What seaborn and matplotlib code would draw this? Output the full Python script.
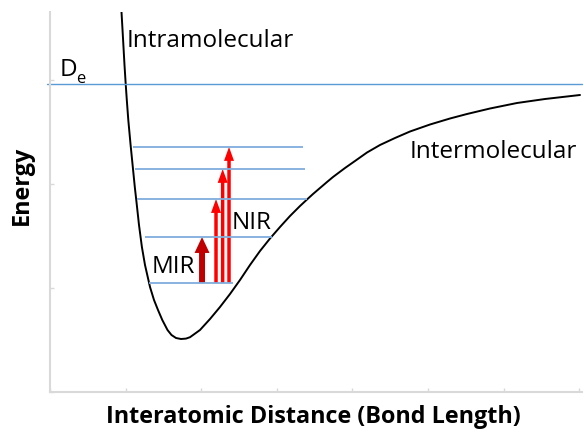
import numpy as np
import pandas as pd
import matplotlib
matplotlib.use("Agg")
import matplotlib.pyplot as plt
import seaborn as sns
from matplotlib.patches import FancyArrowPatch

# ---- data ----
curve_x = [0.9458, 0.9669, 0.9854, 1.0013, 1.0159, 1.0357, 1.0661, 1.0992, 1.1217, 1.1455,
           1.1772, 1.2156, 1.2566, 1.3228, 1.3757, 1.4286, 1.4854, 1.5542, 1.6071, 1.6667,
           1.7328, 1.7989, 1.8519, 1.9841, 2.1164, 2.2487, 2.3810, 2.5132, 2.6455, 2.7778,
           2.9101, 3.0423, 3.1746, 3.3069, 3.3995, 3.4788, 3.5714, 3.6640, 3.7434, 3.9021,
           4.0344, 4.1931, 4.3651, 4.5635, 4.7619, 5.0265, 5.2910, 5.5159, 5.8201, 6.1772,
           6.5476, 7.0106]
curve_y = [3.6596, 3.3896, 3.1485, 2.9653, 2.8110, 2.6181, 2.3771, 2.1360, 1.9720, 1.8177,
           1.6056, 1.3934, 1.2199, 1.0077, 0.8823, 0.7859, 0.6895, 0.5931, 0.5448, 0.5159,
           0.5063, 0.5101, 0.5236, 0.5931, 0.6991, 0.8149, 0.9402, 1.0752, 1.2199, 1.3549,
           1.4754, 1.5863, 1.6924, 1.7888, 1.8515, 1.9045, 1.9624, 2.0202, 2.0685, 2.1552,
           2.2228, 2.3047, 2.3771, 2.4445, 2.5072, 2.5747, 2.6326, 2.6760, 2.7290, 2.7821,
           2.8206, 2.8592]

dissociation_energy = 2.965
level_energy = [1.046, 1.490, 1.856, 2.146, 2.358]
level_start = [1.313, 1.257, 1.155, 1.124, 1.094]
level_end = [2.421, 2.937, 3.399, 3.373, 3.347]

mir_x = [2.011]
mir_to_level = [1]
nir_x = [2.196, 2.284, 2.368]
nir_to_level = [2, 3, 4]

x_ticks = [0, 1, 2, 3, 4, 5, 6, 7]
y_ticks = [0, 1, 2, 3]

# ---- styling ----
sns.set_theme(style="white")
plt.rcParams['font.family'] = ['Open Sans', 'DejaVu Sans']
plt.rcParams['text.color'] = 'black'
plt.rcParams['axes.labelcolor'] = 'black'

fig = plt.figure(figsize=(5.84, 4.34), dpi=100)
ax = fig.add_axes([50 / 584, (434 - 391.5) / 434, 532 / 584, 379.5 / 434])

df = pd.DataFrame({"x": curve_x, "y": curve_y})
sns.lineplot(data=df, x="x", y="y", sort=False, color="black", lw=1.4, ax=ax)

blue = "#5B9BD5"
ax.axhline(dissociation_energy, color=blue, lw=1.0, xmin=-0.005, clip_on=False)
ax.hlines(level_energy, level_start, level_end, color="#7FAEDD", lw=1.3)

base = level_energy[0]
for x, lv in zip(mir_x, mir_to_level):
    ax.add_patch(FancyArrowPatch((x, base), (x, level_energy[lv]),
                                 arrowstyle="simple,head_width=10.8,head_length=11.5,tail_width=4.3",
                                 color="#C00000", shrinkA=0, shrinkB=0, mutation_scale=1, lw=0))
for x, lv in zip(nir_x, nir_to_level):
    ax.add_patch(FancyArrowPatch((x, base), (x, level_energy[lv]),
                                 arrowstyle="simple,head_width=7.2,head_length=10,tail_width=2.5",
                                 color="#FF0000", shrinkA=0, shrinkB=0, mutation_scale=1, lw=0))

ax.set_xlim(0, 532 / 75.6)
ax.set_ylim(0, 379.5 / 103.7)
ax.set_xticks(x_ticks)
ax.set_yticks(y_ticks)
ax.set_xticklabels([])
ax.set_yticklabels([])
ax.tick_params(direction="in", length=3, width=1, color="#D9D9D9",
               bottom=True, left=True)
for s in ["top", "right"]:
    ax.spines[s].set_visible(False)
for s in ["left", "bottom"]:
    ax.spines[s].set_color("#D9D9D9")
    ax.spines[s].set_linewidth(1.5)

fs = 17.5
ax.text(1.0185, 3.322, "Intramolecular", fontsize=fs, ha="left", va="baseline")
ax.text(4.762, 2.252, "Intermolecular", fontsize=fs, ha="left", va="baseline")
ax.text(0.124, 3.042, "D", fontsize=fs, ha="left", va="baseline")
ax.text(0.350, 2.975, "e", fontsize=12, ha="left", va="baseline")
ax.text(1.345, 1.140, "MIR", fontsize=fs, ha="left", va="baseline")
ax.text(2.403, 1.567, "NIR", fontsize=fs, ha="left", va="baseline")

ax.set_xlabel("Interatomic Distance (Bond Length)", fontsize=16.8, fontweight="bold")
ax.set_ylabel("Energy", fontsize=16.8, fontweight="bold")
ax.xaxis.set_label_coords(0.496, -0.036)
ax.yaxis.set_label_coords(-0.030, 0.544)

fig.savefig("out.png", dpi=100)
